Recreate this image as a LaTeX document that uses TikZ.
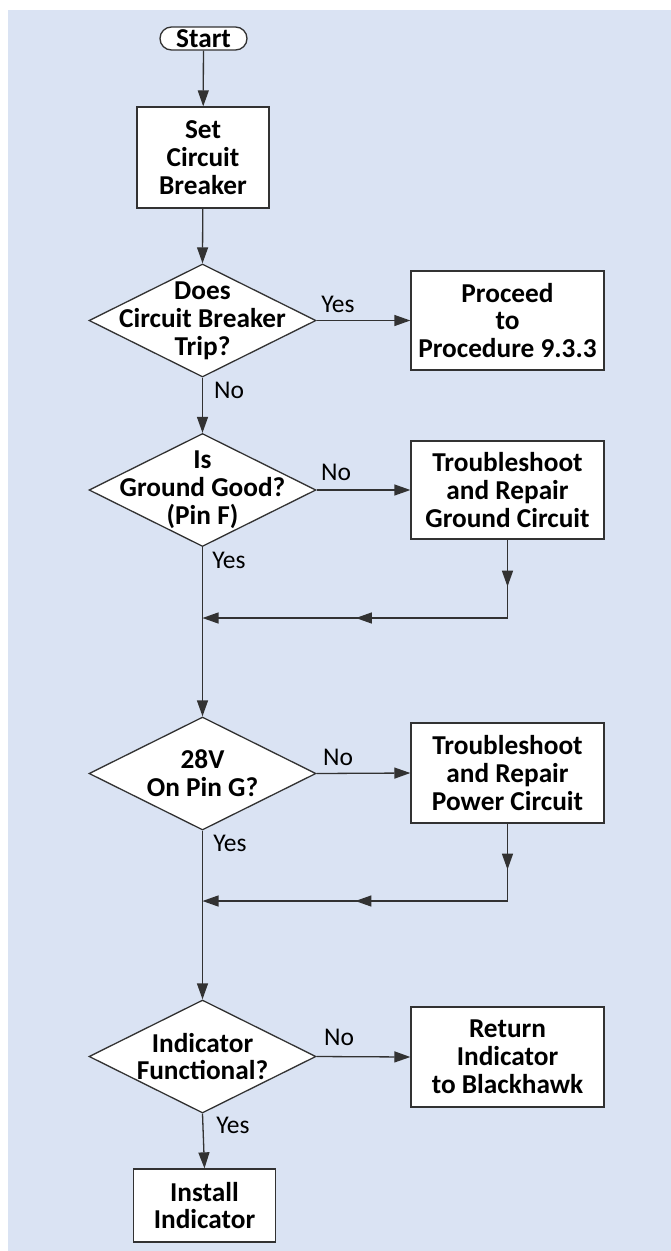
\documentclass[tikz,border=0pt]{standalone}
\usepackage{fontspec}
\setmainfont{Carlito}
\usetikzlibrary{arrows.meta,shapes.geometric,decorations.markings}
\definecolor{bgblue}{RGB}{218,227,243}
\definecolor{linegray}{RGB}{50,50,50}
\begin{document}
\begin{tikzpicture}[x=1pt,y=-1pt,
  txt/.style={font=\fontsize{27.3}{27.8}\selectfont\bfseries, align=center, inner sep=0pt},
  lbl/.style={font=\fontsize{25.5}{27}\selectfont, inner sep=0pt},
  boxnode/.style={draw=linegray, fill=white, line width=1.3pt, align=center, inner sep=0pt,
    font=\fontsize{27.3}{27.8}\selectfont\bfseries},
  dianode/.style={draw=linegray, fill=white, line width=1.3pt, shape=diamond, inner sep=0pt,
    minimum width=227pt, minimum height=113pt},
  conn/.style={draw=linegray, line width=1.3pt},
  tip/.style={-{Triangle[length=16pt,width=11pt]}},
  midtips/.style 2 args={postaction={decorate}, decoration={markings,
    mark=at position #1pt with {\arrow{Triangle[length=16pt,width=11pt]}},
    mark=at position #2pt with {\arrow{Triangle[length=16pt,width=11pt]}}}}
]
\useasboundingbox (0,0) rectangle (671,1251);
\fill[bgblue] (8,10) rectangle (671,1251);

% nodes
\node[boxnode, minimum width=87pt, minimum height=23pt, rounded corners=11.5pt] (start) at (203.5,38.5) {Start};
\node[boxnode, minimum width=132pt, minimum height=101pt] (set) at (203,157.5) {Set\\Circuit\\Breaker};

\node[dianode] (d1) at (202.5,320.5) {};
\node[txt] (d1t) at (d1) {Does\\Circuit Breaker\\Trip?};
\node[boxnode, minimum width=193pt, minimum height=99pt] (proc) at (507.5,320.5) {Proceed\\to\\Procedure 9.3.3};

\node[dianode] (d2) at (202.5,490) {};
\node[txt] (d2t) at (d2) {Is\\Ground Good?\\(Pin F)};
\node[boxnode, minimum width=193pt, minimum height=98pt] (gnd) at (507.5,490) {Troubleshoot\\and Repair\\Ground Circuit};

\node[dianode] (d3) at (202.5,773.5) {};
\node[txt] (d3t) at (d3) {28V\\On Pin G?};
\node[boxnode, minimum width=193pt, minimum height=100pt] (pwr) at (507.5,773) {Troubleshoot\\and Repair\\Power Circuit};

\node[dianode] (d4) at (202.5,1056.5) {};
\node[txt] (d4t) at (d4) {Indicator\\Functional?};
\node[boxnode, minimum width=193pt, minimum height=100pt] (ret) at (507.5,1057) {Return\\Indicator\\to Blackhawk};

\node[boxnode, minimum width=142pt, minimum height=73pt] (inst) at (204.5,1205.5) {Install\\Indicator};

% junction coordinates
\coordinate (g1) at (507.5,618);
\coordinate (j1) at (202.5,618);
\coordinate (g2) at (507.5,901);
\coordinate (j2) at (202.5,901);

% connectors
\draw[conn, tip] (start) -- (set);
\draw[conn, tip] (set) -- (d1.north);
\draw[conn, tip] (d1.east) -- (proc.west);
\draw[conn, tip] (d1.south) -- (d2.north);
\draw[conn, tip] (d2.east) -- (gnd.west);
\draw[conn, tip] (d2.south) -- (d3.north);
\draw[conn, tip, midtips={47}{230}] (gnd.south) -- (g1) -- (j1);
\draw[conn, tip] (d3.east) -- (pwr.west);
\draw[conn, tip] (d3.south) -- (d4.north);
\draw[conn, tip, midtips={46}{229.5}] (pwr.south) -- (g2) -- (j2);
\draw[conn, tip] (d4.east) -- (ret.west);
\draw[conn, tip] (d4.south) -- (inst.north);

% labels
\node[lbl] (y1) at (338,304) {Yes};
\node[lbl] (n1) at (229,390) {No};
\node[lbl] (n2) at (336,472) {No};
\node[lbl] (y2) at (229,560) {Yes};
\node[lbl] (n3) at (338,757) {No};
\node[lbl] (y3) at (230,843) {Yes};
\node[lbl] (n4) at (339,1037) {No};
\node[lbl] (y4) at (233,1125) {Yes};
\end{tikzpicture}
\end{document}
